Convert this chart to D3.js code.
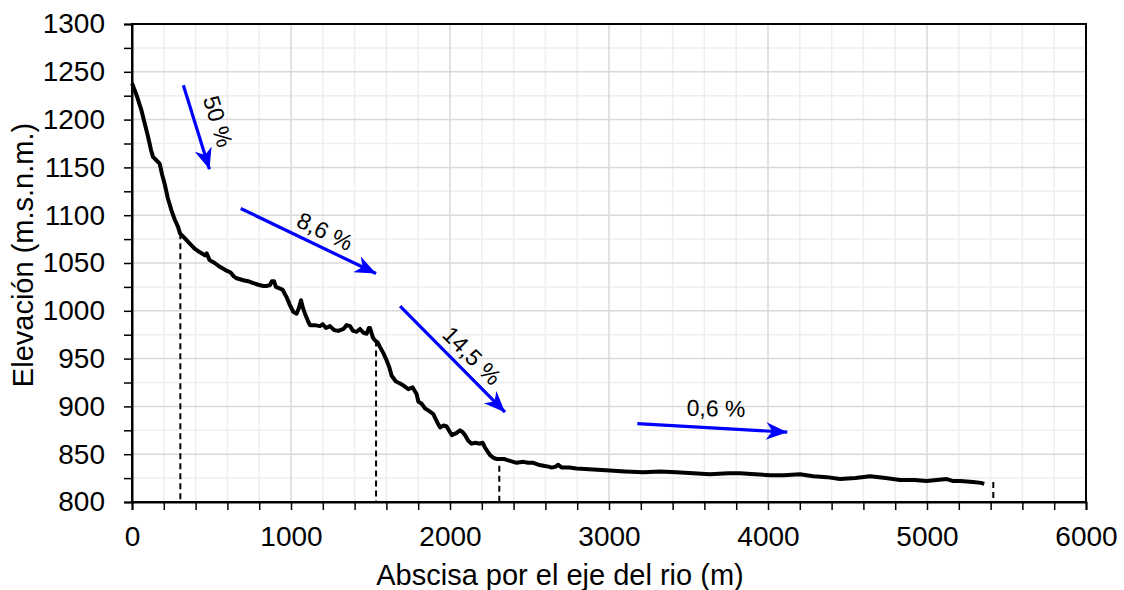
<!DOCTYPE html>
<html><head><meta charset="utf-8">
<script src="https://cdn.jsdelivr.net/npm/d3@7/dist/d3.min.js"></script>
<style>body{margin:0;background:#fff;} text{font-family:"Liberation Sans",Arial,sans-serif;}</style>
</head><body><svg id="c" width="1124" height="590"></svg>
<script>
const distance = [0,30,59,80,101,120,132,150,174,190,205,225,248,270,289,302,331,365,394,420,440,459,470,488,520,553,595,620,640,658,700,730,763,800,826,850,868,880,893,905,920,935,948,960,973,990,1014,1035,1050,1063,1075,1088,1105,1119,1150,1182,1200,1220,1245,1270,1298,1330,1350,1371,1390,1413,1434,1455,1476,1490,1497,1515,1528,1545,1560,1580,1602,1620,1633,1660,1686,1706,1738,1765,1775,1790,1801,1820,1843,1870,1895,1915,1937,1960,1979,2000,2011,2040,2063,2080,2094,2115,2136,2160,2189,2205,2220,2240,2252,2275,2294,2314,2340,2356,2377,2419,2461,2490,2524,2555,2587,2620,2640,2665,2681,2702,2750,2796,2900,3006,3100,3216,3320,3425,3530,3635,3750,3824,3920,4013,4100,4201,4285,4370,4453,4550,4642,4740,4830,4920,4998,5060,5124,5160,5208,5290,5340,5360];
const elevation = [1238,1225,1210,1196,1182,1168,1161,1158,1154,1142,1133,1118,1105,1095,1088,1081,1076,1070,1065,1062,1060,1058,1060,1053,1050,1046,1042,1040,1036,1034,1032,1031,1029,1027,1026,1026,1027,1031,1031,1025,1024,1023,1022,1018,1014,1007,999,997,1003,1011,1003,997,990,985,985,984,986,982,984,980,979,981,985,984,979,978,981,977,976,982,982,972,969,967,962,956,948,940,932,926,924,922,918,920,917,913,905,903,898,895,892,885,878,880,879,873,870,872,875,873,870,864,861,862,861,862,857,852,849,846,845,845,845,844,843,841,842,841,841,839,838,837,836,837,839,836,836,835,834,833,832,831,832,831,830,829,830,830,829,828,828,829,827,826,824,825,827,825,823,823,822,823,824,822,822,821,820,819];
const breakX = [304,1535,2310,5417];
const breakTop = [1081,969,838,821];
const arrowStartX = [323,684,1686,3178];
const arrowStartY = [1236,1107,1005,882];
const arrowEndX = [487,1535,2346,4121];
const arrowEndY = [1148,1039,894,873];
const slopeLabels = ["50 %","8,6 %","14,5 %","0,6 %"];
const labelX = [541,1214,2138,3673];
const labelY = [1198,1083,953,898];
const labelAngle = [73,26,45,1];
const xTicks = [0,1000,2000,3000,4000,5000,6000];
const yTicks = [800,850,900,950,1000,1050,1100,1150,1200,1250,1300];

const svg = d3.select("#c");
const L=132,R=1086,T=24,B=502;
const x = d3.scaleLinear().domain([0,6000]).range([L,R]);
const y = d3.scaleLinear().domain([800,1300]).range([B,T]);

// minor grid
const g = svg.append("g");
g.selectAll(".vx").data(d3.range(200,6000,200).filter(v=>v%1000)).enter().append("line")
 .attr("x1",d=>x(d)).attr("x2",d=>x(d)).attr("y1",T).attr("y2",B).attr("stroke","#eeeeee").attr("stroke-width",1.5);
g.selectAll(".hy").data(d3.range(825,1300,50)).enter().append("line")
 .attr("y1",d=>y(d)).attr("y2",d=>y(d)).attr("x1",L).attr("x2",R).attr("stroke","#eeeeee").attr("stroke-width",1.5);
// major grid
g.selectAll(".mx").data(xTicks.slice(1,-1)).enter().append("line")
 .attr("x1",d=>x(d)).attr("x2",d=>x(d)).attr("y1",T).attr("y2",B).attr("stroke","#d9d9d9").attr("stroke-width",1.5);
g.selectAll(".my").data(yTicks.slice(1,-1)).enter().append("line")
 .attr("y1",d=>y(d)).attr("y2",d=>y(d)).attr("x1",L).attr("x2",R).attr("stroke","#d9d9d9").attr("stroke-width",1.5);

// frame
svg.append("rect").attr("x",L).attr("y",T).attr("width",R-L).attr("height",B-T).attr("fill","none").attr("stroke","#000").attr("stroke-width",2);

// axes
const xAxis = d3.axisBottom(x).tickValues(d3.range(0,6001,200)).tickSize(8)
  .tickFormat(d=> d%1000===0 ? d : "");
const gx = svg.append("g").attr("transform",`translate(0,${B})`).call(xAxis);
gx.select(".domain").attr("stroke-width",2);
gx.selectAll(".tick line").attr("stroke-width",1.5);
gx.selectAll("text").attr("font-size",28).attr("y",44).attr("dy",0).attr("fill","#000").style("font-family","Liberation Sans, Arial");

const yAxis = d3.axisLeft(y).tickValues(d3.range(800,1301,25)).tickSize(8)
  .tickFormat(d=> d%50===0 ? d : "");
const gy = svg.append("g").attr("transform",`translate(${L},0)`).call(yAxis);
gy.select(".domain").attr("stroke-width",2);
gy.selectAll(".tick line").attr("stroke-width",1.5);
gy.selectAll("text").attr("font-size",28).attr("x",-27).attr("fill","#000").style("font-family","Liberation Sans, Arial");

// titles
svg.append("text").attr("x",560).attr("y",585).attr("text-anchor","middle").attr("font-size",29).text("Abscisa por el eje del rio (m)");
svg.append("text").attr("transform",`translate(33,255) rotate(-90)`).attr("text-anchor","middle").attr("font-size",29).text("Elevación (m.s.n.m.)");

// dashed lines
svg.selectAll(".dash").data(breakX).enter().append("line")
 .attr("x1",d=>x(d)).attr("x2",d=>x(d)).attr("y1",(d,i)=>y(breakTop[i])).attr("y2",B)
 .attr("stroke","#000").attr("stroke-width",2).attr("stroke-dasharray","6,4");

// profile
const pts = distance.map((d,i)=>[d,elevation[i]]);
svg.append("path").datum(pts).attr("fill","none").attr("stroke","#000").attr("stroke-width",4)
 .attr("stroke-linejoin","round").attr("d",d3.line().x(d=>x(d[0])).y(d=>y(d[1])));

// arrows
const defs = svg.append("defs");
defs.append("marker").attr("id","ah").attr("viewBox","0 0 12 10").attr("refX",12).attr("refY",5)
 .attr("markerWidth",8).attr("markerHeight",5.5).attr("markerUnits","strokeWidth").attr("orient","auto")
 .append("path").attr("d","M0,0 L12,5 L0,10 L3.5,5 Z").attr("fill","#0000ff");
svg.selectAll(".arr").data(arrowStartX).enter().append("line")
 .attr("x1",d=>x(d)).attr("y1",(d,i)=>y(arrowStartY[i]))
 .attr("x2",(d,i)=>x(arrowEndX[i])).attr("y2",(d,i)=>y(arrowEndY[i]))
 .attr("stroke","#0000ff").attr("stroke-width",3.2).attr("marker-end","url(#ah)");

svg.selectAll(".lab").data(slopeLabels).enter().append("text")
 .attr("transform",(d,i)=>`translate(${x(labelX[i])},${y(labelY[i])}) rotate(${labelAngle[i]})`)
 .attr("text-anchor","middle").attr("dominant-baseline","central").attr("font-size",23).text(d=>d);
</script></body></html>
